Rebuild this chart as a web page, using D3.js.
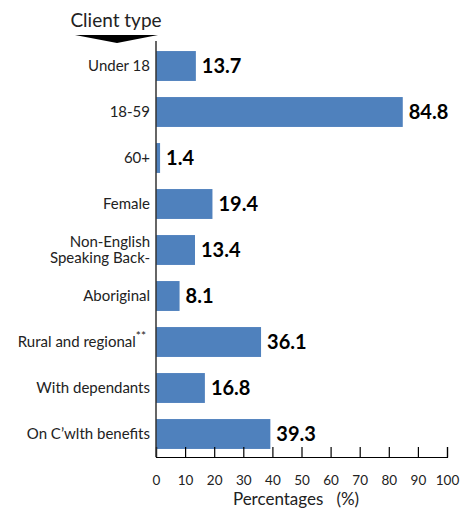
<!DOCTYPE html>
<html>
<head>
<meta charset="utf-8">
<script src="https://cdn.jsdelivr.net/npm/d3@7"></script>
<style>
  html, body { margin: 0; padding: 0; background: #fff; }
  svg { display: block; font-family: Lato, "Open Sans", sans-serif; }
</style>
</head>
<body>
<svg id="chart" width="461" height="516"></svg>
<script>
// Share of clients by client type (%)
const categories = [
  "Under 18",
  "18-59",
  "60+",
  "Female",
  "Non-English|Speaking Back-",
  "Aboriginal",
  "Rural and regional",
  "With dependants",
  "On C\u2019wlth benefits"
];
const values = [13.7, 84.8, 1.4, 19.4, 13.4, 8.1, 36.1, 16.8, 39.3];
const xTicks = [0, 10, 20, 30, 40, 50, 60, 70, 80, 90, 100];

const svg = d3.select("#chart");
const plotLeft = 156, plotRight = 447, plotTop = 43, plotBottom = 457;

const x = d3.scaleLinear().domain([0, 100]).range([plotLeft, plotRight]);
const y = d3.scaleBand().domain(categories).range([plotTop, plotBottom])
  .paddingInner(0.35).paddingOuter(0.175);

// bars
svg.append("g").selectAll("rect")
  .data(categories)
  .join("rect")
  .attr("x", x(0))
  .attr("y", d => y(d))
  .attr("width", (d, i) => x(values[i]) - x(0))
  .attr("height", y.bandwidth())
  .attr("fill", "#4F81BD");

// value labels
svg.append("g").selectAll("text")
  .data(categories)
  .join("text")
  .attr("x", (d, i) => x(values[i]) + 6)
  .attr("y", d => y(d) + y.bandwidth() / 2 + 7)
  .attr("font-size", 20)
  .attr("font-weight", "bold")
  .attr("fill", "#000")
  .text((d, i) => values[i].toFixed(1));

// x axis with inward ticks
const xAxis = svg.append("g")
  .attr("transform", `translate(0,${plotBottom})`)
  .call(d3.axisBottom(x).tickValues(xTicks).tickSize(-10).tickPadding(18));
xAxis.select(".domain").attr("stroke", "#000").attr("stroke-width", 1.2);
xAxis.selectAll(".tick line").attr("stroke", "#000").attr("stroke-width", 1.2);
xAxis.selectAll(".tick text").attr("font-size", 13.5).attr("fill", "#222")
  .attr("font-family", "Lato, sans-serif");

// y axis line
svg.append("line")
  .attr("x1", x(0)).attr("x2", x(0))
  .attr("y1", plotTop - 2).attr("y2", plotBottom)
  .attr("stroke", "#333").attr("stroke-width", 1.5);

// category labels
const labels = svg.append("g").selectAll("text")
  .data(categories)
  .join("text")
  .attr("text-anchor", "end")
  .attr("font-size", 15)
  .attr("fill", "#222")
  .attr("x", x(0) - 6)
  .attr("y", d => y(d) + y.bandwidth() / 2 + 5);

labels.each(function(d) {
  const t = d3.select(this);
  const parts = d.split("|");
  if (parts.length > 1) {
    parts.forEach((p, i) => {
      t.append("tspan").attr("x", x(0) - 6)
        .attr("dy", i === 0 ? "-0.55em" : "1.1em").text(p);
    });
  } else if (d === "Rural and regional") {
    t.attr("x", x(0) - 10);
    t.append("tspan").text(d);
    t.append("tspan").attr("dy", -7).attr("font-size", 12).text("**");
  } else {
    t.text(d);
  }
});

// header
svg.append("text")
  .attr("x", 116).attr("y", 27)
  .attr("text-anchor", "middle")
  .attr("font-size", 19)
  .attr("fill", "#222")
  .text("Client type");

svg.append("path")
  .attr("d", "M75,35 L158,35 L117,43 Z")
  .attr("fill", "#000");

// x axis title
svg.append("text")
  .attr("x", 296).attr("y", 505)
  .attr("text-anchor", "middle")
  .attr("font-size", 17)
  .attr("fill", "#222")
  .attr("xml:space", "preserve")
  .text("Percentages   (%)");
</script>
</body>
</html>
